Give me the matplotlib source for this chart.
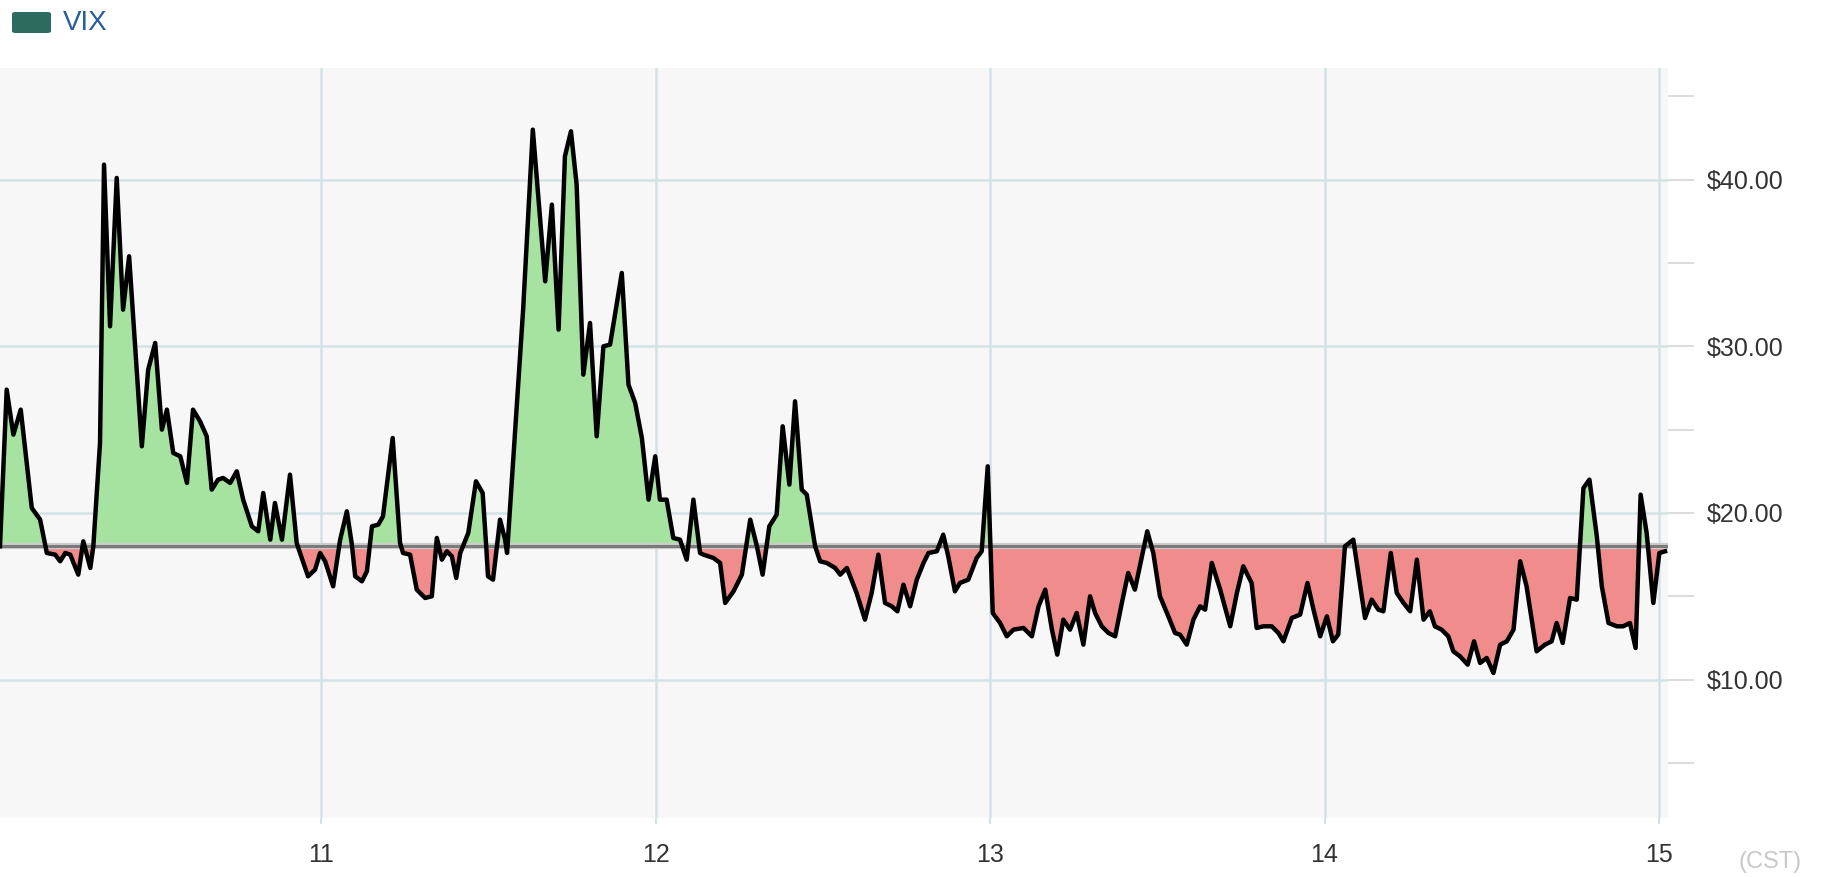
import numpy as np
import matplotlib.pyplot as plt
from matplotlib.patches import FancyBboxPatch
from matplotlib.ticker import FuncFormatter

plt.rcParams['font.family'] = ['Liberation Sans', 'DejaVu Sans']

# time in years (11 = 2011), VIX value
years = [
    10.040, 10.060, 10.080, 10.102, 10.135, 10.160, 10.175, 10.180, 10.205, 10.220,
    10.235, 10.250, 10.274, 10.289, 10.310, 10.319, 10.339, 10.351, 10.369, 10.389,
    10.408, 10.426, 10.464, 10.483, 10.504, 10.524, 10.539, 10.558, 10.579, 10.599,
    10.617, 10.638, 10.658, 10.673, 10.692, 10.707, 10.728, 10.748, 10.767, 10.793,
    10.812, 10.827, 10.848, 10.862, 10.883, 10.907, 10.927, 10.937, 10.961, 10.982,
    10.997, 11.012, 11.036, 11.057, 11.077, 11.092, 11.102, 11.122, 11.137, 11.152,
    11.171, 11.185, 11.214, 11.236, 11.245, 11.266, 11.286, 11.311, 11.331, 11.346,
    11.361, 11.376, 11.391, 11.404, 11.416, 11.440, 11.463, 11.483, 11.493, 11.499,
    11.514, 11.535, 11.550, 11.556, 11.604, 11.633, 11.670, 11.690, 11.710, 11.729,
    11.747, 11.764, 11.784, 11.804, 11.824, 11.844, 11.864, 11.899, 11.919, 11.939,
    11.959, 11.979, 11.999, 12.013, 12.033, 12.053, 12.073, 12.093, 12.113, 12.133,
    12.143, 12.173, 12.193, 12.208, 12.233, 12.258, 12.283, 12.303, 12.320, 12.340,
    12.362, 12.380, 12.400, 12.417, 12.437, 12.452, 12.477, 12.492, 12.512, 12.537,
    12.552, 12.572, 12.601, 12.626, 12.646, 12.666, 12.686, 12.706, 12.723, 12.741,
    12.761, 12.781, 12.801, 12.816, 12.841, 12.860, 12.875, 12.895, 12.910, 12.935,
    12.960, 12.975, 12.993, 13.008, 13.030, 13.050, 13.070, 13.100, 13.125, 13.145,
    13.165, 13.185, 13.201, 13.219, 13.239, 13.259, 13.279, 13.299, 13.314, 13.334,
    13.354, 13.374, 13.394, 13.413, 13.433, 13.454, 13.470, 13.488, 13.508, 13.533,
    13.553, 13.568, 13.588, 13.608, 13.628, 13.643, 13.663, 13.688, 13.718, 13.738,
    13.757, 13.782, 13.797, 13.817, 13.842, 13.862, 13.877, 13.902, 13.927, 13.949,
    13.967, 13.987, 14.007, 14.025, 14.041, 14.061, 14.086, 14.101, 14.121, 14.141,
    14.161, 14.176, 14.198, 14.216, 14.236, 14.256, 14.276, 14.296, 14.315, 14.330,
    14.350, 14.370, 14.385, 14.405, 14.428, 14.447, 14.465, 14.485, 14.505, 14.525,
    14.545, 14.565, 14.585, 14.604, 14.634, 14.659, 14.679, 14.694, 14.712, 14.734,
    14.754, 14.774, 14.792, 14.814, 14.829, 14.849, 14.874, 14.893, 14.913, 14.930,
    14.945, 14.963, 14.983, 15.001, 15.018,
]
vix = [
    18.0, 27.4, 24.7, 26.2, 20.3, 19.6, 18.1, 17.6, 17.5, 17.1,
    17.6, 17.5, 16.3, 18.3, 16.7, 18.0, 24.2, 40.9, 31.2, 40.1,
    32.2, 35.4, 24.0, 28.6, 30.2, 25.0, 26.2, 23.6, 23.4, 21.8,
    26.2, 25.5, 24.6, 21.4, 22.0, 22.1, 21.8, 22.5, 20.8, 19.2,
    18.9, 21.2, 18.4, 20.6, 18.4, 22.3, 18.2, 17.6, 16.2, 16.6,
    17.6, 17.1, 15.6, 18.4, 20.1, 18.1, 16.2, 15.9, 16.5, 19.2,
    19.3, 19.8, 24.5, 18.2, 17.6, 17.5, 15.4, 14.9, 15.0, 18.5,
    17.2, 17.7, 17.4, 16.1, 17.6, 18.8, 21.9, 21.2, 18.2, 16.2,
    16.0, 19.6, 18.4, 17.6, 32.2, 43.0, 33.9, 38.5, 31.0, 41.4,
    42.9, 39.7, 28.3, 31.4, 24.6, 30.0, 30.1, 34.4, 27.7, 26.6,
    24.5, 20.8, 23.4, 20.8, 20.8, 18.5, 18.4, 17.2, 20.8, 17.6,
    17.5, 17.3, 17.0, 14.6, 15.3, 16.3, 19.6, 18.0, 16.3, 19.2,
    19.9, 25.2, 21.7, 26.7, 21.4, 21.1, 18.0, 17.1, 17.0, 16.7,
    16.3, 16.7, 15.2, 13.6, 15.2, 17.5, 14.6, 14.4, 14.1, 15.7,
    14.4, 16.0, 17.0, 17.6, 17.7, 18.7, 17.4, 15.3, 15.8, 16.0,
    17.3, 17.7, 22.8, 14.0, 13.4, 12.6, 13.0, 13.1, 12.6, 14.4,
    15.4, 13.0, 11.5, 13.6, 13.0, 14.0, 12.1, 15.0, 14.0, 13.2,
    12.8, 12.6, 14.6, 16.4, 15.4, 17.4, 18.9, 17.6, 15.0, 13.8,
    12.8, 12.7, 12.1, 13.6, 14.4, 14.2, 17.0, 15.4, 13.2, 15.2,
    16.8, 15.8, 13.1, 13.2, 13.2, 12.8, 12.3, 13.7, 13.9, 15.8,
    14.2, 12.6, 13.8, 12.3, 12.7, 18.0, 18.4, 16.4, 13.7, 14.8,
    14.2, 14.1, 17.6, 15.2, 14.6, 14.1, 17.2, 13.6, 14.1, 13.2,
    13.0, 12.6, 11.7, 11.4, 10.9, 12.3, 11.0, 11.3, 10.4, 12.1,
    12.3, 13.0, 17.1, 15.6, 11.7, 12.1, 12.3, 13.4, 12.2, 14.9,
    14.8, 21.5, 22.0, 18.6, 15.6, 13.4, 13.2, 13.2, 13.4, 11.9,
    21.1, 18.8, 14.6, 17.6, 17.7,
]
baseline = 18.0

year_ticks = [11, 12, 13, 14, 15]
price_ticks = [10, 20, 30, 40]
minor_price_ticks = [5, 15, 25, 35, 45]

fig = plt.figure(figsize=(18.27, 8.77), dpi=100)
ax = fig.add_axes([0.0, 0.0673, 0.913, 0.8552])
ax.set_facecolor('#f7f7f7')
ax.set_axisbelow(True)

x = np.array(years)
y = np.array(vix)
ax.fill_between(x, y, baseline, where=y >= baseline, interpolate=True,
                color='#a6e2a0', lw=0)
ax.fill_between(x, y, baseline, where=y <= baseline, interpolate=True,
                color='#f08c8c', lw=0)
ax.axhline(baseline, color='#cccccc', lw=4.5)
ax.axhline(baseline, color='#7a7a7a', lw=2.2)
ax.plot(x, y, color='black', lw=3.2)

ax.set_xlim(10.040, 15.027)
ax.set_ylim(1.7, 46.7)

ax.set_xticks(year_ticks)
ax.set_xticklabels([str(t) for t in year_ticks])
ax.set_yticks(price_ticks)
ax.set_yticks(minor_price_ticks, minor=True)
ax.yaxis.set_major_formatter(FuncFormatter(lambda v, p: f'${v:.2f}'))
ax.yaxis.tick_right()
ax.grid(which='major', color='#d3e2e6', lw=1.8)

for s in ax.spines.values():
    s.set_visible(False)

ax.tick_params(axis='y', which='both', direction='out', length=19, width=1.5,
               color='#dcdcdc', pad=9, labelsize=18, labelcolor='#333333')
ax.tick_params(axis='x', direction='out', length=4, width=1.5,
               color='#d3e2e6', pad=14, labelsize=18, labelcolor='#333333')

# legend swatch and label
fig.add_artist(FancyBboxPatch((12 / 1827, 1 - 33 / 877), 39 / 1827, 21 / 877,
                              boxstyle='round,pad=0,rounding_size=0.002',
                              transform=fig.transFigure, color='#2d6b5f', lw=0))
fig.text(63 / 1827, 1 - 22.5 / 877, 'VIX', ha='left', va='center',
         fontsize=20, color='#2a5c9c')
fig.text(1770 / 1827, 1 - 862 / 877, '(CST)', ha='center', va='center',
         fontsize=17, color='#c8c8c8')

fig.savefig('out.png', dpi=100)
